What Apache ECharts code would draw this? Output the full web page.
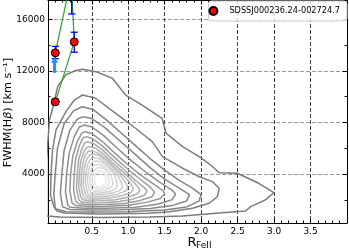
<!DOCTYPE html>
<html><head><meta charset="utf-8">
<script src="https://cdn.jsdelivr.net/npm/echarts@6/dist/echarts.min.js"></script>
<style>html,body{margin:0;padding:0;background:#fff}#c{width:349px;height:251px}</style>
</head><body><div id="c"></div>
<script>
// ---------- tick values ----------
const xMajorTicks = [0.5, 1.0, 1.5, 2.0, 2.5, 3.0, 3.5];
const xMinorTicks = [-0.1, 0, 0.1, 0.2, 0.3, 0.4, 0.5, 0.6, 0.7, 0.8, 0.9, 1.0, 1.1, 1.2, 1.3, 1.4, 1.5, 1.6, 1.7, 1.8, 1.9, 2.0,
  2.1, 2.2, 2.3, 2.4, 2.5, 2.6, 2.7, 2.8, 2.9, 3.0, 3.1, 3.2, 3.3, 3.4, 3.5, 3.6, 3.7, 3.8, 3.9, 4.0];
const yMajorTicks = [4000, 8000, 12000, 16000];
const yMinorTicks = [2000, 4000, 6000, 8000, 10000, 12000, 14000, 16000];

// ---------- object ----------
const targetName = 'SDSSJ000236.24-002724.7';
const targetPoints = [[0.0, 9600], [0.0, 13400], [0.26, 14250], [0.225, 18300]];
const errorBars = [[0.0, 9400, 9800], [0.0, 12950, 13900], [0.26, 13450, 15000], [0.225, 16420, 20200]];
const trackA = [[0.0, 9600], [0.26, 14250], [0.225, 18300]];
const trackB = [[0.0, 13400], [0.19, 18400]];
const limitArrow = [[-0.01, 11850, 13100]];

// ---------- density contours (outer -> inner) ----------
const contour1 = [[-0.12,820],[-0.12,5100],[-0.08,8190],[-0.035,9120],[0.033,10780],[0.146,11700],[0.27,12010],[0.374,12130],[0.555,11940],[0.783,11430],[0.965,10120],[1.19,9350],[1.465,8320],[1.52,7160],[1.746,6120],[1.974,5350],[2.13,4700],[2.247,4100],[2.497,4060],[2.79,3280],[2.997,2550],[2.88,1990],[2.68,1470],[2.61,1130],[2.2,950],[1.746,745],[1.29,670],[0.61,630],[0.064,670],[-0.12,745]];
const contour2 = [[-0.018,1440],[-0.065,2370],[-0.059,4000],[-0.038,5870],[0.01,7420],[0.146,8840],[0.26,9740],[0.374,10130],[0.555,9880],[0.737,9100],[0.92,8320],[1.10,7550],[1.33,6510],[1.47,5350],[1.746,4450],[1.974,3790],[2.155,3410],[2.247,2890],[2.224,2240],[2.11,1730],[1.883,1340],[1.565,1080],[1.29,950],[0.61,900],[0.13,980],[0.023,1130],[-0.018,1440]];
const contour3 = [[0.0,1300],[-0.02,2500],[0.0,4000],[0.03,6000],[0.12,7900],[0.25,8900],[0.37,9220],[0.52,9000],[0.7,8200],[0.9,7200],[1.1,6200],[1.3,5200],[1.5,4300],[1.7,3500],[1.88,2900],[2.0,2400],[1.97,1900],[1.8,1450],[1.5,1200],[1.0,1080],[0.5,1050],[0.15,1080],[0.0,1300]];
const contour4 = [[0.1,1450],[0.07,2500],[0.09,4000],[0.12,5800],[0.2,7400],[0.3,8250],[0.38,8450],[0.5,8300],[0.68,7600],[0.9,6500],[1.1,5500],[1.3,4500],[1.5,3600],[1.7,2900],[1.84,2400],[1.8,1900],[1.6,1550],[1.3,1320],[0.9,1230],[0.5,1200],[0.2,1250],[0.1,1450]];
const contour5 = [[0.17,1600],[0.14,2600],[0.155,4000],[0.19,5600],[0.26,6900],[0.33,7650],[0.4,7800],[0.5,7650],[0.66,7000],[0.85,6000],[1.05,5000],[1.25,4100],[1.45,3300],[1.6,2750],[1.65,2450],[1.6,2000],[1.4,1650],[1.1,1430],[0.7,1350],[0.4,1340],[0.2,1420],[0.17,1600]];
const contour6 = [[0.23,1750],[0.2,2700],[0.21,4000],[0.24,5400],[0.3,6500],[0.36,7150],[0.41,7285],[0.5,7150],[0.65,6500],[0.82,5600],[1.0,4700],[1.2,3800],[1.38,3100],[1.48,2700],[1.5,2450],[1.44,2100],[1.25,1800],[1.0,1580],[0.7,1490],[0.45,1480],[0.28,1560],[0.23,1750]];
const contour7 = [[0.28,1900],[0.25,2800],[0.26,4000],[0.28,5200],[0.33,6200],[0.38,6800],[0.42,6900],[0.5,6780],[0.64,6200],[0.8,5350],[0.98,4450],[1.15,3650],[1.3,3000],[1.36,2600],[1.33,2250],[1.15,1920],[0.95,1720],[0.7,1630],[0.45,1610],[0.32,1700],[0.28,1900]];
const contour8 = [[0.32,2050],[0.29,2900],[0.3,4000],[0.32,5100],[0.36,5900],[0.4,6400],[0.44,6485],[0.52,6380],[0.65,5850],[0.8,5050],[0.96,4250],[1.1,3500],[1.22,2950],[1.26,2650],[1.22,2350],[1.06,2050],[0.88,1860],[0.66,1770],[0.45,1760],[0.35,1850],[0.32,2050]];
const contour9 = [[0.35,2200],[0.32,3000],[0.33,4000],[0.35,5000],[0.39,5700],[0.43,6080],[0.47,6125],[0.55,6000],[0.67,5500],[0.8,4800],[0.95,4050],[1.07,3400],[1.14,2950],[1.16,2700],[1.12,2450],[0.98,2180],[0.82,2010],[0.62,1920],[0.46,1910],[0.38,2000],[0.35,2200]];
const contour10 = [[0.38,2350],[0.35,3100],[0.36,4000],[0.38,4900],[0.41,5450],[0.45,5760],[0.49,5790],[0.57,5680],[0.68,5250],[0.8,4600],[0.93,3900],[1.02,3350],[1.06,3000],[1.07,2780],[1.03,2550],[0.91,2310],[0.76,2160],[0.6,2070],[0.47,2060],[0.4,2150],[0.38,2350]];
const contour11 = [[0.41,2480],[0.38,3200],[0.39,4000],[0.41,4800],[0.44,5250],[0.48,5520],[0.52,5555],[0.59,5450],[0.69,5050],[0.8,4450],[0.9,3850],[0.96,3350],[0.99,3050],[0.99,2850],[0.95,2650],[0.85,2440],[0.72,2300],[0.58,2220],[0.48,2210],[0.43,2290],[0.41,2480]];
const contour12 = [[0.44,2600],[0.41,3300],[0.42,4000],[0.44,4700],[0.47,5050],[0.5,5240],[0.54,5270],[0.61,5170],[0.7,4800],[0.79,4300],[0.87,3750],[0.91,3300],[0.92,2950],[0.89,2750],[0.8,2560],[0.69,2440],[0.57,2370],[0.49,2360],[0.45,2430],[0.44,2600]];
const contour13 = [[0.47,2720],[0.44,3400],[0.45,4000],[0.47,4600],[0.5,4870],[0.53,5000],[0.57,5010],[0.63,4920],[0.71,4600],[0.78,4150],[0.83,3650],[0.85,3250],[0.84,2950],[0.78,2720],[0.68,2580],[0.58,2510],[0.51,2510],[0.48,2580],[0.47,2720]];
const contour14 = [[0.5,2850],[0.47,3500],[0.48,4000],[0.5,4450],[0.53,4680],[0.57,4750],[0.62,4700],[0.69,4450],[0.75,4050],[0.78,3600],[0.79,3200],[0.76,2950],[0.68,2760],[0.59,2670],[0.53,2670],[0.5,2850]];
const contour15 = [[0.53,2980],[0.5,3550],[0.51,4000],[0.54,4330],[0.58,4490],[0.62,4500],[0.67,4400],[0.71,4100],[0.73,3700],[0.74,3300],[0.71,3050],[0.64,2880],[0.57,2810],[0.53,2980]];
const contour16 = [[0.56,3100],[0.53,3600],[0.55,4000],[0.58,4200],[0.62,4250],[0.66,4150],[0.69,3850],[0.7,3450],[0.67,3150],[0.61,3000],[0.57,3000],[0.56,3100]];

const contours = [contour1, contour2, contour3, contour4, contour5, contour6, contour7, contour8,
  contour9, contour10, contour11, contour12, contour13, contour14, contour15, contour16];
const contourColors = ['#7b7b7b','#7f7f7f','#838383','#888888','#8e8e8e','#959595','#9d9d9d','#a6a6a6',
  '#afafaf','#b8b8b8','#c1c1c1','#cacaca','#d2d2d2','#dadada','#e1e1e1','#e7e7e7'];

const chart = echarts.init(document.getElementById('c'), null, {renderer: 'canvas'});

const FONT = 'DejaVu Sans';
const xRange = {min: -0.1, max: 4.0};
const yRange = {min: 200, max: 17500};

function xAxisDef(pos, major, show) {
  return {
    type: 'value', position: pos, min: xRange.min, max: xRange.max,
    axisLine: {show: major, onZero: false, lineStyle: {color: '#000', width: 1}},
    axisTick: {show: true, inside: true, length: major ? 4.5 : 2.5, customValues: major ? xMajorTicks : xMinorTicks,
      lineStyle: {color: '#000', width: 1}},
    axisLabel: {show: show, customValues: xMajorTicks, formatter: v => v.toFixed(1),
      fontSize: 9, color: '#000', fontFamily: FONT, margin: 4},
    splitLine: {show: show, lineStyle: {color: '#444', type: [4, 2], width: 1}}
  };
}
function yAxisDef(pos, major, show) {
  return {
    type: 'value', position: pos, min: yRange.min, max: yRange.max,
    axisLine: {show: major, onZero: false, lineStyle: {color: '#000', width: 1}},
    axisTick: {show: true, inside: true, length: major ? 4.5 : 2.5, customValues: major ? yMajorTicks : yMinorTicks,
      lineStyle: {color: '#000', width: 1}},
    axisLabel: {show: show, customValues: yMajorTicks, formatter: v => String(v),
      fontSize: 9, color: '#000', fontFamily: FONT, margin: 3},
    splitLine: {show: show, lineStyle: {color: '#9a9a9a', type: [4, 2], width: 1}}
  };
}

const series = [];
contours.forEach((c, i) => {
  series.push({
    type: 'line', data: c, xAxisIndex: 0, yAxisIndex: 0, showSymbol: false, symbol: 'none',
    silent: true, clip: true, z: 1,
    lineStyle: {color: contourColors[i], width: 1.5}
  });
});
[trackA, trackB].forEach(t => {
  series.push({
    type: 'line', data: t, xAxisIndex: 0, yAxisIndex: 0, showSymbol: false, symbol: 'none',
    silent: true, clip: true, z: 3, lineStyle: {color: '#2ca02c', width: 1.2}
  });
});
series.push({
  type: 'custom', xAxisIndex: 0, yAxisIndex: 0, clip: true, z: 4, silent: true,
  encode: {x: 0, y: [1, 2]},
  data: errorBars,
  renderItem: function (params, api) {
    const x = api.value(0), lo = api.value(1), hi = api.value(2);
    const a = api.coord([x, lo]), b = api.coord([x, hi]);
    const cap = 3.5;
    const st = {stroke: '#0000ee', lineWidth: 1.3, fill: null};
    return {type: 'group', children: [
      {type: 'line', shape: {x1: a[0], y1: a[1], x2: b[0], y2: b[1]}, style: st},
      {type: 'line', shape: {x1: a[0] - cap, y1: a[1], x2: a[0] + cap, y2: a[1]}, style: st},
      {type: 'line', shape: {x1: b[0] - cap, y1: b[1], x2: b[0] + cap, y2: b[1]}, style: st}
    ]};
  }
});
series.push({
  type: 'custom', xAxisIndex: 0, yAxisIndex: 0, clip: true, z: 4, silent: true,
  encode: {x: 0, y: [1, 2]},
  data: limitArrow,
  renderItem: function (params, api) {
    const x = api.value(0), y0 = api.value(1), y1 = api.value(2);
    const a = api.coord([x, y0]), b = api.coord([x, y1]);
    const headL = 5, headW = 3.5;
    return {type: 'group', children: [
      {type: 'line', shape: {x1: a[0], y1: a[1], x2: b[0], y2: b[1] + headL}, style: {stroke: '#1e90ff', lineWidth: 3}},
      {type: 'polygon', shape: {points: [[b[0], b[1]], [b[0] - headW, b[1] + headL + 1], [b[0] + headW, b[1] + headL + 1]]},
        style: {fill: '#1e90ff'}}
    ]};
  }
});
series.push({
  name: targetName, type: 'scatter', data: targetPoints, xAxisIndex: 0, yAxisIndex: 0,
  symbol: 'circle', symbolSize: 8, clip: true, z: 5,
  itemStyle: {color: '#ff0000', borderColor: '#000', borderWidth: 1, opacity: 1}
});

chart.setOption({
  animation: false,
  backgroundColor: '#fff',
  textStyle: {fontFamily: FONT},
  grid: {left: 48, right: 2, top: 0, bottom: 28, containLabel: false},
  xAxis: [xAxisDef('bottom', true, true), xAxisDef('bottom', false, false),
          xAxisDef('top', true, false), xAxisDef('top', false, false)],
  yAxis: [yAxisDef('left', true, true), yAxisDef('left', false, false),
          yAxisDef('right', true, false), yAxisDef('right', false, false)],
  legend: {
    show: true, right: 2, top: 1, orient: 'vertical',
    data: [{name: targetName, icon: 'circle'}],
    itemWidth: 22, itemHeight: 8, padding: [5, 7, 5, 0],
    backgroundColor: 'rgba(255,255,255,0.85)', borderColor: '#cccccc', borderWidth: 1, borderRadius: 3,
    textStyle: {fontSize: 8.2, color: '#000', fontFamily: FONT},
    selectedMode: false
  },
  graphic: [
    {type: 'text', x: 8.5, y: 112.5, rotation: Math.PI / 2, silent: true,
      style: {text: 'FWHM(H{b|β}) [km s⁻¹]', fontSize: 11.2, fontFamily: FONT, fill: '#000',
        align: 'center', verticalAlign: 'middle',
        rich: {b: {fontSize: 11.2, fontStyle: 'italic', fontFamily: FONT, fill: '#000'}}}},
    {type: 'text', x: 187.5, y: 243, silent: true,
      style: {text: 'R', fontSize: 13, fontFamily: FONT, fill: '#000', align: 'left', verticalAlign: 'middle'}},
    {type: 'text', x: 196, y: 246, silent: true,
      style: {text: 'FeII', fontSize: 9, fontFamily: FONT, fill: '#000', align: 'left', verticalAlign: 'middle'}}
  ],
  series: series
});
</script>
</body></html>
